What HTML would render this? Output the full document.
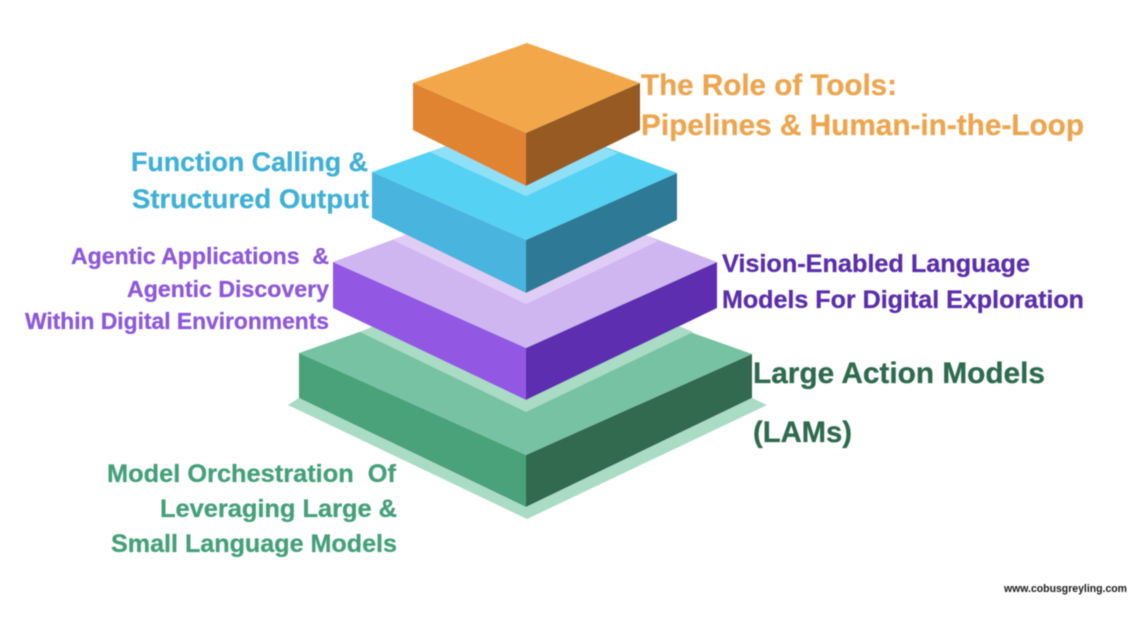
<!DOCTYPE html>
<html lang="en">
<head>
<meta charset="utf-8">
<title>Agentic stack pyramid</title>
<style>
html,body{margin:0;padding:0;background:#fff;width:1145px;height:627px;overflow:hidden}
svg{display:block}
text{font-family:"Liberation Sans",Arial,sans-serif;font-weight:bold;white-space:pre;stroke-width:0.3px;paint-order:stroke}
</style>
</head>
<body>
<svg width="1145" height="627" viewBox="0 0 1145 627" xmlns="http://www.w3.org/2000/svg">
<defs><filter id="b" x="-5%" y="-5%" width="110%" height="110%"><feGaussianBlur stdDeviation="0.4"/></filter></defs>
<rect width="1145" height="627" fill="#fff"/>
<g filter="url(#b)">
  <!-- green layer -->
  <polygon points="288,405 299,398 526,507 752,398 767,405 527,519" fill="#a9dbc5"/>
  <polygon points="299,353 526,274 752,354 526,455" fill="#76c2a2"/>
  <polygon points="299,353 526,455 526,507 299,398" fill="#49a27a"/>
  <polygon points="752,354 526,455 526,507 752,398" fill="#326a4f"/>
  <polygon points="360,332 526,260 693,332 526,412" fill="#a9dbc5"/>
  <!-- purple layer -->
  <polygon points="333,262 526,190 717,262 526,348" fill="#d0b6f1"/>
  <polygon points="333,262 526,348 526,400 333,308" fill="#9359e3"/>
  <polygon points="717,262 526,348 526,400 717,308" fill="#5d2fb0"/>
  <polygon points="393,240 526,180 658,241 526,304" fill="#e0cdf6"/>
  <!-- blue layer -->
  <polygon points="372,172 526,118 677,173 526,240" fill="#55d2f3"/>
  <polygon points="372,172 526,240 526,293 372,218" fill="#4ab4dd"/>
  <polygon points="677,173 526,240 526,293 677,220" fill="#2e7a96"/>
  <polygon points="430,152 526,115 618,153 526,196" fill="#8fe0f7"/>
  <!-- orange layer -->
  <polygon points="527,43 413,83 526,133 640,83" fill="#f2a74b"/>
  <polygon points="413,83 526,133 526,186 413,130" fill="#e08433"/>
  <polygon points="640,83 526,133 526,186 640,130" fill="#965a20"/>
  <!-- labels -->
  <g fill="#eda650" stroke="#eda650" font-size="29.5">
    <text x="641" y="95" textLength="256" lengthAdjust="spacingAndGlyphs">The Role of Tools:</text>
    <text x="641" y="135" textLength="443" lengthAdjust="spacingAndGlyphs">Pipelines &amp; Human-in-the-Loop</text>
  </g>
  <g fill="#5a2eab" stroke="#5a2eab" font-size="25">
    <text x="722" y="272" textLength="308" lengthAdjust="spacingAndGlyphs">Vision-Enabled Language</text>
    <text x="722" y="308" textLength="362" lengthAdjust="spacingAndGlyphs">Models For Digital Exploration</text>
  </g>
  <g fill="#2f6b50" stroke="#2f6b50" font-size="29.5">
    <text x="753" y="383" textLength="292" lengthAdjust="spacingAndGlyphs">Large Action Models</text>
    <text x="753" y="442" textLength="99" lengthAdjust="spacingAndGlyphs">(LAMs)</text>
  </g>
  <g fill="#3fb0d6" stroke="#3fb0d6" font-size="27">
    <text x="131" y="171" textLength="237" lengthAdjust="spacingAndGlyphs">Function Calling &amp;</text>
    <text x="132" y="208" textLength="237" lengthAdjust="spacingAndGlyphs">Structured Output</text>
  </g>
  <g fill="#8d58da" stroke="#8d58da" font-size="23">
    <text x="71" y="264" textLength="258" lengthAdjust="spacingAndGlyphs">Agentic Applications  &amp;</text>
    <text x="127" y="297" textLength="202" lengthAdjust="spacingAndGlyphs">Agentic Discovery</text>
    <text x="25" y="329" textLength="304" lengthAdjust="spacingAndGlyphs">Within Digital Environments</text>
  </g>
  <g fill="#44a07a" stroke="#44a07a" font-size="25">
    <text x="107" y="482" textLength="289" lengthAdjust="spacingAndGlyphs">Model Orchestration  Of</text>
    <text x="160" y="517" textLength="237" lengthAdjust="spacingAndGlyphs">Leveraging Large &amp;</text>
    <text x="111" y="552" textLength="286" lengthAdjust="spacingAndGlyphs">Small Language Models</text>
  </g>
  <text x="1004" y="592" font-size="11" fill="#1a1a1a" textLength="123" lengthAdjust="spacingAndGlyphs">www.cobusgreyling.com</text>
</g>
</svg>
</body>
</html>
